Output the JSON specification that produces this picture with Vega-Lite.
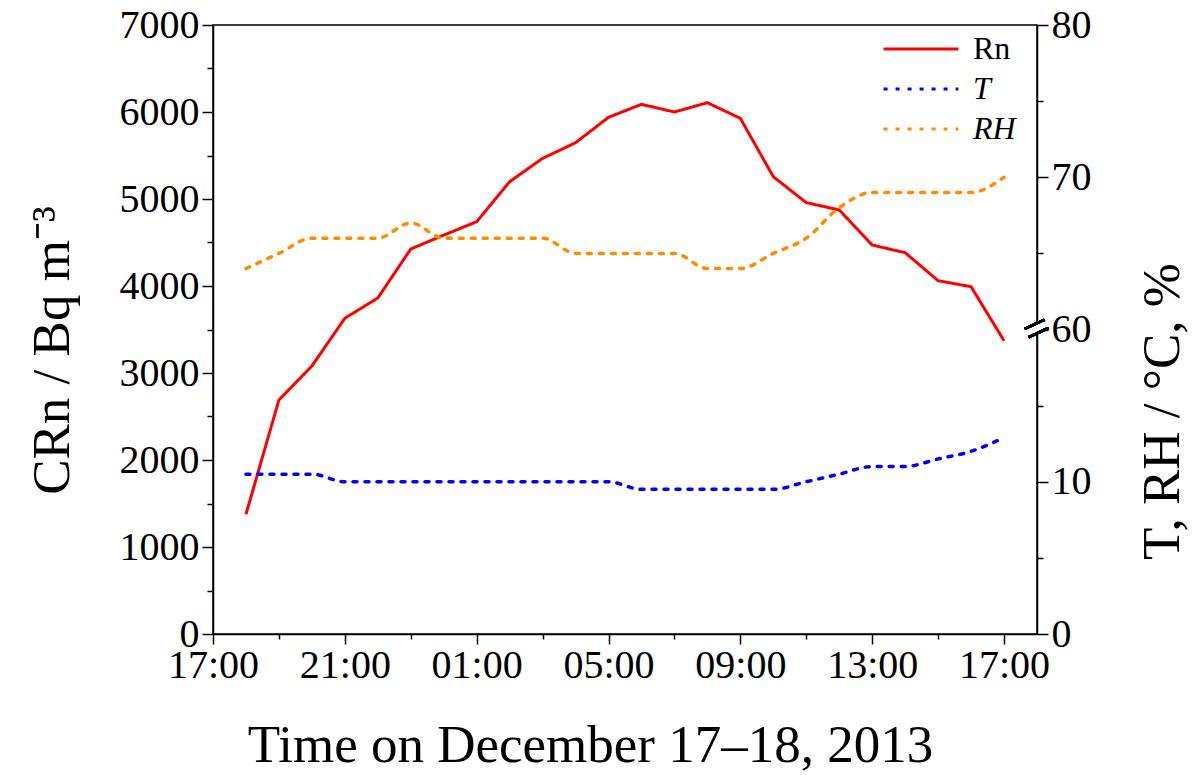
{
  "$schema": "https://vega.github.io/schema/vega-lite/v6.json",
  "width": 824,
  "height": 609,
  "autosize": {"type": "none"},
  "padding": {"left": 213, "top": 25, "right": 167, "bottom": 141},
  "background": "white",
  "config": {
    "font": "Liberation Serif",
    "view": {"stroke": "black", "strokeWidth": 1.5},
    "axis": {
      "labelFont": "Liberation Serif", "titleFont": "Liberation Serif",
      "labelColor": "black", "titleColor": "black",
      "domainColor": "black", "tickColor": "black",
      "domainWidth": 1.5, "tickWidth": 1.5, "grid": false,
      "labelFontSize": 40, "titleFontSize": 53, "titleFontWeight": "normal",
      "labelOverlap": false, "labelFlush": false
    }
  },
  "data": {"values": [
    {"time": "2013-12-17T18:00", "series": "Rn", "value": 1376},
    {"time": "2013-12-17T19:00", "series": "Rn", "value": 2690},
    {"time": "2013-12-17T20:00", "series": "Rn", "value": 3080},
    {"time": "2013-12-17T21:00", "series": "Rn", "value": 3629},
    {"time": "2013-12-17T22:00", "series": "Rn", "value": 3862},
    {"time": "2013-12-17T23:00", "series": "Rn", "value": 4425},
    {"time": "2013-12-18T00:00", "series": "Rn", "value": 4585},
    {"time": "2013-12-18T01:00", "series": "Rn", "value": 4739},
    {"time": "2013-12-18T02:00", "series": "Rn", "value": 5199},
    {"time": "2013-12-18T03:00", "series": "Rn", "value": 5467},
    {"time": "2013-12-18T04:00", "series": "Rn", "value": 5647},
    {"time": "2013-12-18T05:00", "series": "Rn", "value": 5939},
    {"time": "2013-12-18T06:00", "series": "Rn", "value": 6088},
    {"time": "2013-12-18T07:00", "series": "Rn", "value": 6000},
    {"time": "2013-12-18T08:00", "series": "Rn", "value": 6107},
    {"time": "2013-12-18T09:00", "series": "Rn", "value": 5927},
    {"time": "2013-12-18T10:00", "series": "Rn", "value": 5256},
    {"time": "2013-12-18T11:00", "series": "Rn", "value": 4958},
    {"time": "2013-12-18T12:00", "series": "Rn", "value": 4874},
    {"time": "2013-12-18T13:00", "series": "Rn", "value": 4471},
    {"time": "2013-12-18T14:00", "series": "Rn", "value": 4383},
    {"time": "2013-12-18T15:00", "series": "Rn", "value": 4061},
    {"time": "2013-12-18T16:00", "series": "Rn", "value": 3992},
    {"time": "2013-12-18T17:00", "series": "Rn", "value": 3371},
    {"time": "2013-12-17T18:00", "series": "T", "value": 10.5},
    {"time": "2013-12-17T19:00", "series": "T", "value": 10.5},
    {"time": "2013-12-17T20:00", "series": "T", "value": 10.5},
    {"time": "2013-12-17T21:00", "series": "T", "value": 10},
    {"time": "2013-12-17T22:00", "series": "T", "value": 10},
    {"time": "2013-12-17T23:00", "series": "T", "value": 10},
    {"time": "2013-12-18T00:00", "series": "T", "value": 10},
    {"time": "2013-12-18T01:00", "series": "T", "value": 10},
    {"time": "2013-12-18T02:00", "series": "T", "value": 10},
    {"time": "2013-12-18T03:00", "series": "T", "value": 10},
    {"time": "2013-12-18T04:00", "series": "T", "value": 10},
    {"time": "2013-12-18T05:00", "series": "T", "value": 10},
    {"time": "2013-12-18T06:00", "series": "T", "value": 9.5},
    {"time": "2013-12-18T07:00", "series": "T", "value": 9.5},
    {"time": "2013-12-18T08:00", "series": "T", "value": 9.5},
    {"time": "2013-12-18T09:00", "series": "T", "value": 9.5},
    {"time": "2013-12-18T10:00", "series": "T", "value": 9.5},
    {"time": "2013-12-18T11:00", "series": "T", "value": 10},
    {"time": "2013-12-18T12:00", "series": "T", "value": 10.5},
    {"time": "2013-12-18T13:00", "series": "T", "value": 11},
    {"time": "2013-12-18T14:00", "series": "T", "value": 11},
    {"time": "2013-12-18T15:00", "series": "T", "value": 11.5},
    {"time": "2013-12-18T16:00", "series": "T", "value": 12},
    {"time": "2013-12-18T17:00", "series": "T", "value": 12.9},
    {"time": "2013-12-17T18:00", "series": "RH", "value": 64},
    {"time": "2013-12-17T19:00", "series": "RH", "value": 65},
    {"time": "2013-12-17T20:00", "series": "RH", "value": 66},
    {"time": "2013-12-17T21:00", "series": "RH", "value": 66},
    {"time": "2013-12-17T22:00", "series": "RH", "value": 66},
    {"time": "2013-12-17T23:00", "series": "RH", "value": 67},
    {"time": "2013-12-18T00:00", "series": "RH", "value": 66},
    {"time": "2013-12-18T01:00", "series": "RH", "value": 66},
    {"time": "2013-12-18T02:00", "series": "RH", "value": 66},
    {"time": "2013-12-18T03:00", "series": "RH", "value": 66},
    {"time": "2013-12-18T04:00", "series": "RH", "value": 65},
    {"time": "2013-12-18T05:00", "series": "RH", "value": 65},
    {"time": "2013-12-18T06:00", "series": "RH", "value": 65},
    {"time": "2013-12-18T07:00", "series": "RH", "value": 65},
    {"time": "2013-12-18T08:00", "series": "RH", "value": 64},
    {"time": "2013-12-18T09:00", "series": "RH", "value": 64},
    {"time": "2013-12-18T10:00", "series": "RH", "value": 65},
    {"time": "2013-12-18T11:00", "series": "RH", "value": 66},
    {"time": "2013-12-18T12:00", "series": "RH", "value": 68},
    {"time": "2013-12-18T13:00", "series": "RH", "value": 69},
    {"time": "2013-12-18T14:00", "series": "RH", "value": 69},
    {"time": "2013-12-18T15:00", "series": "RH", "value": 69},
    {"time": "2013-12-18T16:00", "series": "RH", "value": 69},
    {"time": "2013-12-18T17:00", "series": "RH", "value": 70}
  ]},
  "layer": [
    {
      "transform": [{"filter": "datum.series === 'Rn'"}],
      "mark": {"type": "line", "strokeWidth": 3, "strokeJoin": "miter"},
      "encoding": {
        "x": {
          "field": "time", "type": "temporal",
          "title": "Time on December 17–18, 2013",
          "scale": {"domain": [
            {"year": 2013, "month": 12, "date": 17, "hours": 17},
            {"year": 2013, "month": 12, "date": 18, "hours": 18}
          ]},
          "axis": {
            "values": [
              {"year": 2013, "month": 12, "date": 17, "hours": 17},
              {"year": 2013, "month": 12, "date": 17, "hours": 18},
              {"year": 2013, "month": 12, "date": 17, "hours": 19},
              {"year": 2013, "month": 12, "date": 17, "hours": 20},
              {"year": 2013, "month": 12, "date": 17, "hours": 21},
              {"year": 2013, "month": 12, "date": 17, "hours": 22},
              {"year": 2013, "month": 12, "date": 17, "hours": 23},
              {"year": 2013, "month": 12, "date": 18, "hours": 0},
              {"year": 2013, "month": 12, "date": 18, "hours": 1},
              {"year": 2013, "month": 12, "date": 18, "hours": 2},
              {"year": 2013, "month": 12, "date": 18, "hours": 3},
              {"year": 2013, "month": 12, "date": 18, "hours": 4},
              {"year": 2013, "month": 12, "date": 18, "hours": 5},
              {"year": 2013, "month": 12, "date": 18, "hours": 6},
              {"year": 2013, "month": 12, "date": 18, "hours": 7},
              {"year": 2013, "month": 12, "date": 18, "hours": 8},
              {"year": 2013, "month": 12, "date": 18, "hours": 9},
              {"year": 2013, "month": 12, "date": 18, "hours": 10},
              {"year": 2013, "month": 12, "date": 18, "hours": 11},
              {"year": 2013, "month": 12, "date": 18, "hours": 12},
              {"year": 2013, "month": 12, "date": 18, "hours": 13},
              {"year": 2013, "month": 12, "date": 18, "hours": 14},
              {"year": 2013, "month": 12, "date": 18, "hours": 15},
              {"year": 2013, "month": 12, "date": 18, "hours": 16},
              {"year": 2013, "month": 12, "date": 18, "hours": 17}
            ],
            "labelExpr": "hours(datum.value) % 4 === 1 ? timeFormat(datum.value, '%H:%M') : ''",
            "tickSize": {"condition": {"test": "hours(datum.value) % 4 === 1", "value": 10}, "value": 5},
            "labelPadding": 1,
            "titleX": 377, "titleY": 127, "titleAlign": "center", "titleBaseline": "alphabetic"
          }
        },
        "y": {
          "field": "value", "type": "quantitative",
          "scale": {"domain": [0, 7000], "nice": false},
          "axis": {
            "values": [0, 500, 1000, 1500, 2000, 2500, 3000, 3500, 4000, 4500, 5000, 5500, 6000, 6500, 7000],
            "format": "d",
            "labelExpr": "datum.value % 1000 === 0 ? datum.label : ''",
            "tickSize": {"condition": {"test": "datum.value % 1000 === 0", "value": 11}, "value": 6},
            "labelPadding": 3,
            "title": "CRn / Bq m⁻³",
            "titleAngle": -90, "titleX": -161, "titleY": 325,
            "titleAlign": "center", "titleBaseline": "middle"
          }
        },
        "color": {
          "field": "series", "type": "nominal",
          "scale": {"domain": ["Rn", "T", "RH"], "range": ["#ff0000", "#0000ff", "#ff8c00"]},
          "legend": {
            "title": null, "orient": "none", "legendX": 692, "legendY": 8,
            "symbolType": "M-4,0H4", "symbolSize": 350, "symbolStrokeWidth": 3.2,
            "symbolFillColor": "transparent",
            "labelFont": "Liberation Serif", "labelFontSize": 32, "labelColor": "black",
            "labelOffset": 36, "rowPadding": 8, "padding": 0,
            "encode": {
              "labels": {"update": {"fontStyle": {"signal": "datum.label === 'Rn' ? 'normal' : 'italic'"}}},
              "symbols": {"update": {"fill": {"value": "transparent"}}}
            }
          }
        },
        "strokeDash": {
          "field": "series", "type": "nominal",
          "scale": {"domain": ["Rn", "T", "RH"], "range": [[1, 0], [4, 8], [4, 8]]},
          "legend": {
            "title": null, "orient": "none", "legendX": 692, "legendY": 8,
            "symbolType": "M-4,0H4", "symbolSize": 350, "symbolStrokeWidth": 3.2,
            "symbolFillColor": "transparent",
            "labelFont": "Liberation Serif", "labelFontSize": 32, "labelColor": "black",
            "labelOffset": 36, "rowPadding": 8, "padding": 0,
            "encode": {
              "labels": {"update": {"fontStyle": {"signal": "datum.label === 'Rn' ? 'normal' : 'italic'"}}},
              "symbols": {"update": {"fill": {"value": "transparent"}}}
            }
          }
        }
      }
    },
    {
      "layer": [
        {
          "transform": [{"filter": "datum.series !== 'Rn'"}],
          "mark": {"type": "line", "strokeWidth": 3.5, "strokeCap": "round", "interpolate": "monotone"},
          "encoding": {
            "x": {"field": "time", "type": "temporal", "title": "Time on December 17–18, 2013"},
            "y": {
              "field": "value", "type": "quantitative",
              "scale": {"domain": [0, 20, 60, 80], "range": [609, 304.5, 304.5, 0], "nice": false, "zero": false},
              "axis": {
                "orient": "right",
                "values": [0, 5, 10, 15, 60, 65, 70, 75, 80],
                "labelExpr": "datum.value % 10 === 0 ? datum.label : ''",
                "tickSize": {"condition": {"test": "datum.value % 10 === 0", "value": 11}, "value": 6},
                "labelPadding": 3,
                "title": "T, RH / °C, %",
                "titleAngle": -90, "titleX": 125, "titleY": 386,
                "titleAlign": "center", "titleBaseline": "middle"
              }
            },
            "color": {"field": "series", "type": "nominal"},
            "strokeDash": {"field": "series", "type": "nominal"}
          }
        },
        {
          "mark": {"type": "rule", "color": "white", "strokeWidth": 6},
          "encoding": {
            "x": {"datum": {"year": 2013, "month": 12, "date": 18, "hours": 18}, "type": "temporal"},
            "y": {"datum": 19.7, "type": "quantitative"},
            "y2": {"datum": 60.3}
          }
        },
        {
          "mark": {"type": "text", "text": "=", "angle": -25, "fontSize": 46, "font": "Liberation Serif", "color": "black", "align": "center", "baseline": "middle"},
          "encoding": {
            "x": {"datum": {"year": 2013, "month": 12, "date": 18, "hours": 18}, "type": "temporal"},
            "y": {"datum": 60, "type": "quantitative"}
          }
        }
      ]
    }
  ],
  "resolve": {"scale": {"y": "independent"}}
}
